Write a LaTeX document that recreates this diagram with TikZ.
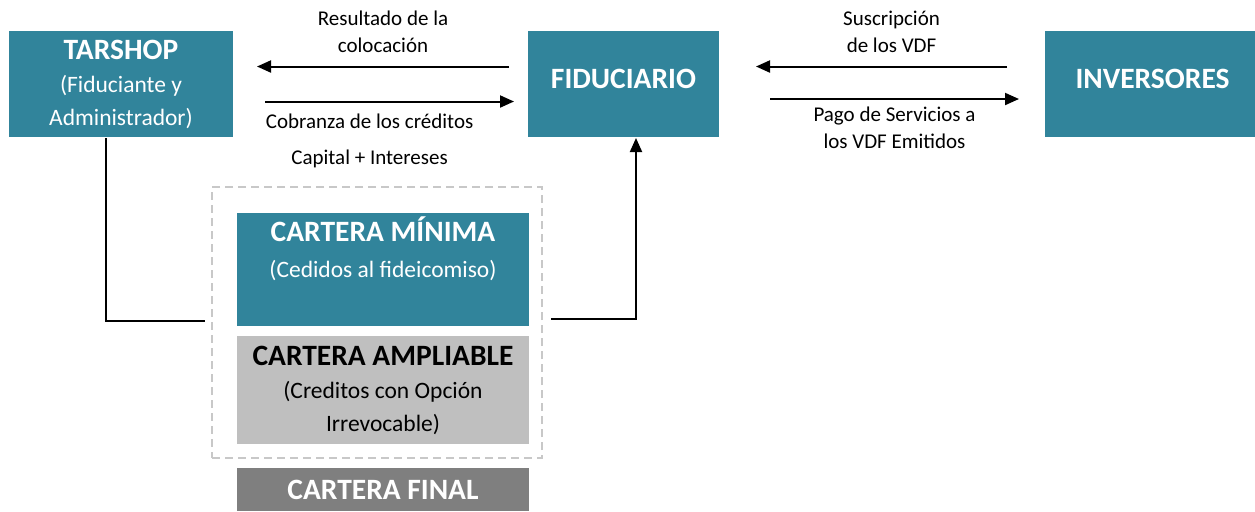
\documentclass[tikz,border=0pt]{standalone}
\usepackage{fontspec}
\setmainfont{Carlito}
\usetikzlibrary{positioning,calc,fit,arrows.meta}
\definecolor{teal box}{RGB}{49,132,155}
\definecolor{light box}{RGB}{191,191,191}
\definecolor{dark box}{RGB}{127,127,127}
\definecolor{frame gray}{RGB}{200,200,200}
\newcommand{\titlefont}{\fontsize{14.75}{17}\selectfont\bfseries}
\newcommand{\bodyfont}{\fontsize{11.75}{16.5}\selectfont}
\newcommand{\labelfont}{\fontsize{10.5}{13.5}\selectfont}

\begin{document}
\begin{tikzpicture}[>={Triangle[length=7pt,width=6pt]}, line width=1pt,
	party/.style={fill=teal box, text=white, align=center, inner sep=0pt, minimum height=53pt, font=\bodyfont},
	portfolio/.style={inner sep=0pt, minimum width=146pt, align=center, font=\bodyfont},
	flowlabel/.style={align=center, font=\labelfont}]
\useasboundingbox (0,0) rectangle (627.5pt,-255.5pt);

\node[party, minimum width=112pt, anchor=north west] at (4pt,-15pt) (tarshop)    {{\titlefont TARSHOP}\\(Fiduciante y\\Administrador)};
\node[party, minimum width=95.5pt, right=146.5pt of tarshop, text height=9.5pt, text depth=5pt]   (fiduciario) {\titlefont FIDUCIARIO};
\node[party, minimum width=107.5pt, right=162pt of fiduciario, text height=9.5pt, text depth=5pt] (inversores) {\titlefont INVERSORES};

\node[portfolio, fill=teal box, minimum height=56.5pt, below right=37pt and 1pt of tarshop.south east] (minima) {};
\node[below=-1.5pt of minima.north, align=center, text=white, font=\bodyfont] (minima text) {{\titlefont CARTERA MÍNIMA}\\[1.5pt](Cedidos al fideicomiso)};
\node[portfolio, fill=light box, minimum height=54pt, below=4pt of minima] (ampliable) {{\titlefont CARTERA AMPLIABLE}\\(Creditos con Opción\\Irrevocable)};
\node[portfolio, fill=dark box, minimum height=21.5pt, below=11pt of ampliable, text=white, font=\titlefont] (final) {CARTERA FINAL};
\node[draw=frame gray, dash pattern=on 4pt off 2.5pt, inner xsep=9pt, inner ysep=9.5pt, fit=(minima)(ampliable), xshift=-3pt, yshift=3pt] (pool) {};

\draw[->] ([xshift=-9pt,yshift=8.75pt]fiduciario.west) -- node[flowlabel, above=3pt] (result label) {Resultado de la\\colocación} ([xshift=11.5pt,yshift=8.75pt]tarshop.east);
\draw[->] ([xshift=15.5pt,yshift=-8.75pt]tarshop.east) -- node[flowlabel, below=2.5pt, pos=0.42] (collection label) {Cobranza de los créditos\\[4.5pt]Capital + Intereses} ([xshift=-6.5pt,yshift=-8.75pt]fiduciario.west);
\draw[->] ([xshift=-18.5pt,yshift=8.75pt]inversores.west) -- node[flowlabel, above=3pt, pos=0.46] (subscription label) {Suscripción\\de los VDF} ([xshift=18pt,yshift=8.75pt]fiduciario.east);
\draw[->] ([xshift=25pt,yshift=-7.5pt]fiduciario.east) -- node[flowlabel, below=0pt] (payment label) {Pago de Servicios a\\los VDF Emitidos} ([xshift=-12.5pt,yshift=-7.5pt]inversores.west);

\draw ([xshift=-7.5pt]tarshop.south) |- ([xshift=-3pt,yshift=0.75pt]pool.west);
\draw[->] ([xshift=4pt,yshift=1.75pt]pool.east) -| ([xshift=6.25pt]fiduciario.south);
\end{tikzpicture}
\end{document}
